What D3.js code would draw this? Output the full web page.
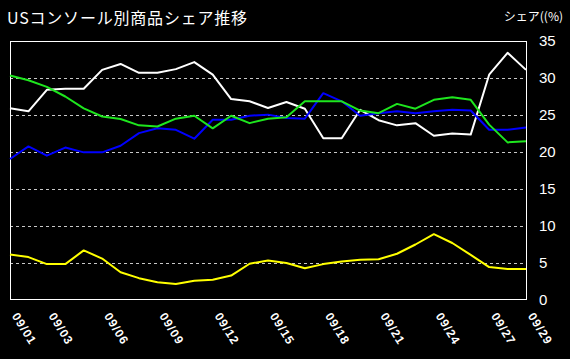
<!DOCTYPE html>
<html><head><meta charset="utf-8">
<script src="https://cdn.jsdelivr.net/npm/d3@7"></script>
<style>
html,body{margin:0;padding:0;background:#000;}
svg{display:block;}
</style></head>
<body>
<script>
const days = d3.range(1, 30).map(d => "09/" + String(d).padStart(2, "0"));
const tickLabels = ["09/01","09/03","09/06","09/09","09/12","09/15","09/18","09/21","09/24","09/27","09/29"];
const yTicks = [0,5,10,15,20,25,30,35];

const whiteSeries = [25.9,25.5,28.4,28.55,28.55,31.1,31.9,30.7,30.7,31.2,32.15,30.45,27.15,26.85,25.95,26.75,25.85,21.85,21.85,25.7,24.3,23.6,23.9,22.2,22.5,22.35,30.45,33.4,31.1];
const blueSeries  = [19.05,20.75,19.5,20.6,19.95,19.95,20.85,22.55,23.2,23.0,21.8,24.35,24.35,24.9,25.05,24.6,24.5,27.95,26.85,24.9,25.25,25.5,25.25,25.5,25.7,25.6,23.0,23.0,23.3];
const greenSeries = [30.35,29.7,28.8,27.5,25.9,24.8,24.45,23.6,23.45,24.5,24.9,23.2,24.9,23.9,24.5,24.7,26.85,26.85,26.85,25.6,25.25,26.5,25.85,27.05,27.4,27.05,23.7,21.3,21.45];
const yellowSeries= [6.15,5.8,4.85,4.85,6.7,5.6,3.75,2.95,2.4,2.15,2.6,2.75,3.3,4.9,5.35,5.0,4.3,4.85,5.2,5.45,5.5,6.25,7.5,8.9,7.7,6.1,4.45,4.2,4.2];

const W = 570, H = 359;
const pLeft = 10, pRight = 526, pTop = 41, pBottom = 300;

const svg = d3.select("body").append("svg").attr("width", W).attr("height", H);
svg.append("rect").attr("width", W).attr("height", H).attr("fill", "#000");

const x = d3.scalePoint().domain(days).range([pLeft, pRight]);
const y = d3.scaleLinear().domain([0, 35]).range([pBottom, pTop]);

// grid
svg.append("g").selectAll("line").data(yTicks.filter(t => t > 0 && t < 35)).join("line")
  .attr("x1", pLeft).attr("x2", pRight)
  .attr("y1", d => Math.round(y(d)) + 0.5).attr("y2", d => Math.round(y(d)) + 0.5)
  .attr("stroke", "#c8c8c8").attr("stroke-width", 1).attr("stroke-dasharray", "3,3");

// frame
svg.append("rect").attr("x", pLeft + 0.5).attr("y", pTop + 0.5)
  .attr("width", pRight - pLeft).attr("height", pBottom - pTop - 1)
  .attr("fill", "none").attr("stroke", "#fff").attr("stroke-width", 1);

// right axis
const yAxis = d3.axisRight(y).tickValues(yTicks).tickSize(0).tickPadding(13);
const ya = svg.append("g").attr("transform", `translate(${pRight},0)`).call(yAxis);
ya.select(".domain").remove();
ya.selectAll("text").attr("fill", "#fff").style("font-family", "'Liberation Sans', Arial, sans-serif").style("font-size", "15px");

// x axis labels
const xAxis = d3.axisBottom(x).tickValues(tickLabels).tickSize(0).tickPadding(0);
const xa = svg.append("g").attr("transform", `translate(0,${pBottom})`).call(xAxis);
xa.select(".domain").remove();
xa.selectAll(".tick text")
  .attr("fill", "#fff")
  .style("font-family", "'Liberation Sans', Arial, sans-serif")
  .style("font-size", "12px").style("font-weight", "bold")
  .style("letter-spacing", "1px")
  .attr("text-anchor", "start")
  .attr("x", 0).attr("y", 0).attr("dy", 0)
  .attr("transform", "translate(1,16) rotate(58)");

// lines
const line = d3.line().x((d, i) => x(days[i])).y(d => y(d));
const series = [
  {v: whiteSeries, c: "#ffffff"},
  {v: blueSeries, c: "#0000ff"},
  {v: greenSeries, c: "#1ee61e"},
  {v: yellowSeries, c: "#ffff00"}
];
svg.append("g").selectAll("path").data(series).join("path")
  .attr("d", d => line(d.v)).attr("fill", "none")
  .attr("stroke", d => d.c).attr("stroke-width", 2).attr("stroke-linejoin", "round");

// titles
svg.append("text").attr("x", 7).attr("y", 24).attr("fill", "#fff")
  .style("font-family", "'Noto Sans CJK JP', sans-serif").style("font-size", "16px")
  .style("letter-spacing", "0.8px")
  .text("USコンソール別商品シェア推移");
svg.append("text").attr("x", 563).attr("y", 21).attr("fill", "#fff").attr("text-anchor", "end")
  .style("font-family", "'Noto Sans CJK JP', sans-serif").style("font-size", "12px")
  .text("シェア((%)");
</script>
</body></html>
